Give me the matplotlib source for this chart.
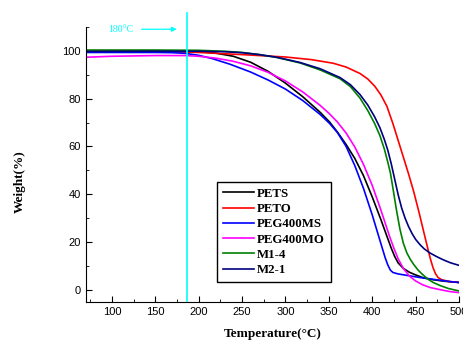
import numpy as np
import matplotlib.pyplot as plt

# TGA data (temperature in C, weight in %)
pets_t = [70, 100, 150, 180, 200, 220, 240, 260, 280, 300, 320, 340, 351, 360, 370, 380, 390, 400, 410,
          417, 422, 426, 430, 436, 443, 450, 459, 470, 480, 490, 500]
pets_w = [100.0, 100.0, 100.0, 99.9, 99.7, 99.0, 97.7, 95.2, 91.4, 86.5, 80.8, 74.3, 70.2, 66, 60.8, 55,
          47.8, 39, 29.5, 22.5, 17.5, 14, 11.3, 9.0, 7.4, 6.3, 5.1, 4.3, 3.8, 3.4, 3.2]

peto_t = [70, 150, 200, 250, 300, 330, 355, 370, 386, 395, 403, 410, 417, 424, 430, 436, 442, 448, 454,
          459, 463, 467, 470, 473, 476, 480, 488, 500]
peto_w = [100.0, 99.8, 99.3, 98.4, 97.4, 96.3, 94.8, 93.2, 90.5, 88.2, 85.2, 81.6, 76.8, 69.5, 62.5, 55.5,
          48.5, 41, 32.5, 25, 19, 13.2, 9.5, 6.8, 5.2, 4.3, 3.6, 3.1]

ms_t = [70, 150, 170, 185, 200, 215, 236, 260, 280, 300, 320, 340, 351, 360, 370, 380, 390, 400, 410,
        415, 418, 421, 424, 430, 440, 455, 467, 480, 490, 500]
ms_w = [99.3, 99.3, 99.2, 98.9, 98.1, 96.8, 94.4, 91.1, 87.8, 84.0, 79.2, 73.4, 69.6, 65.8, 60, 52, 42.5,
        31.5, 19.5, 13.5, 10.5, 8.3, 7.3, 6.7, 6.1, 5.2, 4.6, 4.0, 3.5, 3.1]

mo_t = [70, 100, 150, 185, 200, 220, 240, 260, 280, 300, 320, 340, 351, 360, 370, 380, 390, 400, 410,
        420, 425, 430, 436, 443, 450, 458, 467, 480, 490, 500]
mo_w = [97.3, 97.7, 98.0, 98.0, 97.7, 96.9, 95.6, 93.7, 91.0, 87.4, 82.8, 77.2, 73.6, 70.2, 65.6, 59.8,
        52.5, 43.8, 33.5, 22.5, 17.5, 13, 9, 5.8, 3.8, 2.2, 1.0, 0.0, -0.7, -1.1]

m14_t = [70, 150, 200, 230, 250, 270, 290, 317, 340, 363, 375, 386, 395, 403, 409, 414, 418, 421, 424,
         428, 432, 436, 440, 444, 448, 453, 458, 464, 470, 478, 488, 500]
m14_w = [100.3, 100.3, 100.2, 99.8, 99.3, 98.4, 97.2, 94.9, 92, 88.3, 85, 80.2, 75, 69.5, 64.5, 59, 53.5,
         49, 42.5, 33.5, 25.5, 19.5, 15.5, 12.8, 10.6, 8.3, 6.5, 4.6, 3.2, 1.9, 0.6, -0.4]

m21_t = [70, 150, 200, 230, 250, 270, 290, 317, 340, 363, 375, 386, 395, 403, 409, 414, 418, 422, 426,
         430, 434, 438, 442, 446, 450, 455, 460, 466, 474, 482, 490, 500]
m21_w = [99.7, 99.8, 99.8, 99.6, 99.2, 98.4, 97.3, 95.1, 92.5, 88.8, 85.8, 81.7, 77.3, 72.3, 67.8, 63,
         58.5, 52.8, 46.3, 39.8, 34.3, 30, 26.5, 23.6, 21.2, 19, 17.2, 15.6, 14, 12.6, 11.4, 10.3]

series = [
    ("PETS", pets_t, pets_w, "black"),
    ("PETO", peto_t, peto_w, "red"),
    ("PEG400MS", ms_t, ms_w, "#0000ff"),
    ("PEG400MO", mo_t, mo_w, "magenta"),
    ("M1-4", m14_t, m14_w, "#008000"),
    ("M2-1", m21_t, m21_w, "#000080"),
]

fig = plt.figure(figsize=(4.64, 3.4), dpi=100)
ax = fig.add_axes([0.185, 0.112, 0.804, 0.809])

for name, t, w, c in series:
    ax.plot(t, w, color=c, lw=1.2, label=name)

ax.set_xlim(70, 500)
ax.set_ylim(-5, 110)
ax.spines["top"].set_visible(False)
ax.spines["right"].set_visible(False)
ax.set_xticks(np.arange(100, 501, 50))
ax.set_xticks(np.arange(75, 501, 25), minor=True)
ax.set_yticks(np.arange(0, 101, 20))
ax.set_yticks(np.arange(0, 111, 10), minor=True)
ax.tick_params(which="both", direction="in", labelsize=8)
ax.tick_params(which="major", length=4.5)
ax.tick_params(which="minor", length=2.5)
for lab in ax.get_xticklabels() + ax.get_yticklabels():
    lab.set_fontfamily("Liberation Sans")

ax.set_xlabel("Temperature(\u00b0C)", family="Liberation Serif", weight="bold", fontsize=9.5, labelpad=8)
ax.set_ylabel("Weight(%)", family="Liberation Serif", weight="bold", fontsize=9.5)
ax.yaxis.set_label_coords(-0.161, 0.436)

# 180 C marker line
ax.plot([187, 187], [-5, 116], color="cyan", lw=1.2, clip_on=False)
ax.text(110, 109, "180\u00b0C", color="cyan", family="Liberation Serif",
        fontsize=7, ha="center", va="center")
ax.annotate("", xy=(178, 109), xytext=(131, 109), annotation_clip=False,
            arrowprops=dict(arrowstyle="-|>", color="cyan", lw=0.9,
                            mutation_scale=7))

leg = ax.legend(loc="upper left", bbox_to_anchor=(0.351, 0.436), borderaxespad=0,
                fancybox=False, edgecolor="black", framealpha=1, handlelength=2.4,
                labelspacing=0.25, borderpad=0.45, handletextpad=0.25,
                prop={"family": "Liberation Serif", "weight": "bold", "size": 9.3})
leg.get_frame().set_linewidth(1.0)

fig.savefig("out.png", dpi=100)
